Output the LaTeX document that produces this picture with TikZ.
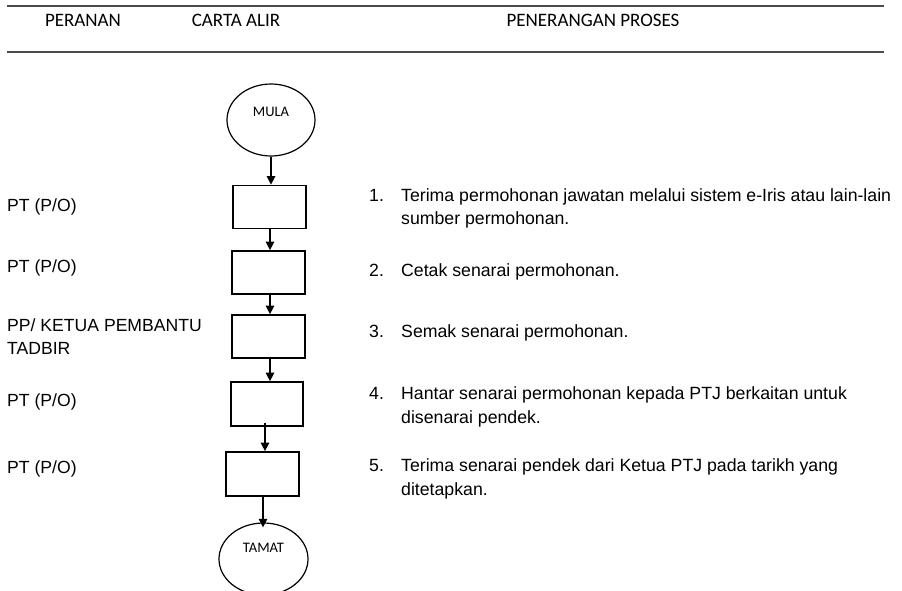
\documentclass[tikz,border=0pt]{standalone}
\usepackage{fontspec}
\usetikzlibrary{arrows.meta,shapes.geometric}
\newfontfamily\arialf{Liberation Sans}
\newfontfamily\calibrif{Carlito}
\begin{document}
\begin{tikzpicture}[x=1pt,y=-1pt,
  head/.style={font=\calibrif\fontsize{19}{23}\selectfont, inner sep=0pt},
  role/.style={font=\arialf\fontsize{17.6}{22.5}\selectfont, anchor=base west, inner sep=0pt},
  desc/.style={font=\arialf\fontsize{17.7}{23.5}\selectfont, anchor=base west, inner sep=0pt},
  stepbox/.style={draw, line width=1.7pt, minimum width=73pt, minimum height=43pt, inner sep=0pt},
  term/.style={draw, ellipse, line width=1.2pt, minimum width=88pt, minimum height=72pt, inner sep=0pt},
  termtext/.style={font=\calibrif\fontsize{14.5}{17}\selectfont, inner sep=0pt},
  arr/.style={line width=1.3pt, -{Triangle[length=8.5pt,width=8.5pt]}},
  rule/.style={line width=1.6pt, draw=black!70}]
\useasboundingbox (0,0) rectangle (902,591);
\clip (0,0) rectangle (902,591);

% header rules and column titles
\coordinate (r1a) at (7,6);   \coordinate (r1b) at (884,6);
\coordinate (r2a) at (7,52);  \coordinate (r2b) at (884,52);
\draw[rule] (r1a) -- (r1b);
\draw[rule] (r2a) -- (r2b);
\node[head] (h1) at (83,20) {PERANAN};
\node[head] (h2) at (236,20) {CARTA ALIR};
\node[head] (h3) at (593,20) {PENERANGAN PROSES};

% flow chart
\node[term] (mula) at (271,120) {};
\node[termtext] (mulat) at (271,112) {MULA};
\node[stepbox] (b1) at (269.5,207) {};
\node[stepbox] (b2) at (268.5,272.5) {};
\node[stepbox] (b3) at (268.5,336.5) {};
\node[stepbox, minimum width=72pt, minimum height=44pt] (b4) at (267,404) {};
\node[stepbox, minimum height=44pt] (b5) at (262.5,474) {};
\node[term, minimum width=89pt] (tamat) at (263.5,559) {};
\node[termtext] (tamatt) at (263.5,548) {TAMAT};

\draw[arr] (mula.south) -- (mula.south |- b1.north);
\draw[arr] ([xshift=0.5pt]b1.south) -- ([xshift=0.5pt]b1.south |- b2.north);
\draw[arr] ([xshift=1.5pt]b2.south) -- ([xshift=1.5pt]b2.south |- b3.north);
\draw[arr] ([xshift=1.5pt]b3.south) -- ([xshift=1.5pt]b3.south |- b4.north);
\draw[arr] ([xshift=-2pt,yshift=4pt]b4.south) -- ([xshift=-2pt]b4.south |- b5.north);
\draw[arr] ([xshift=0.5pt,yshift=2pt]b5.south) -- ([xshift=0.5pt,yshift=-5pt]b5.south |- tamat.north);

% roles
\node[role] (p1) at (7,211.5) {PT (P/O)};
\node[role] (p2) at (7,272) {PT (P/O)};
\node[role] (p3a) at (7,331.5) {PP/ KETUA PEMBANTU};
\node[role] (p3b) at (7,354) {TADBIR};
\node[role] (p4) at (7,406.5) {PT (P/O)};
\node[role] (p5) at (7,473.5) {PT (P/O)};

% process descriptions
\node[desc] (n1) at (369,201.5) {1.};
\node[desc] (d1a) at (401,201.5) {Terima permohonan jawatan melalui sistem e-Iris atau lain-lain};
\node[desc] (d1b) at (401,224.5) {sumber permohonan.};
\node[desc] (n2) at (369,276) {2.};
\node[desc] (d2) at (401,276) {Cetak senarai permohonan.};
\node[desc] (n3) at (369,337.5) {3.};
\node[desc] (d3) at (401,337.5) {Semak senarai permohonan.};
\node[desc] (n4) at (369,399.5) {4.};
\node[desc] (d4a) at (401,399.5) {Hantar senarai permohonan kepada PTJ berkaitan untuk};
\node[desc] (d4b) at (401,423) {disenarai pendek.};
\node[desc] (n5) at (369,471.5) {5.};
\node[desc] (d5a) at (401,471.5) {Terima senarai pendek dari Ketua PTJ pada tarikh yang};
\node[desc] (d5b) at (401,495) {ditetapkan.};
\end{tikzpicture}
\end{document}
